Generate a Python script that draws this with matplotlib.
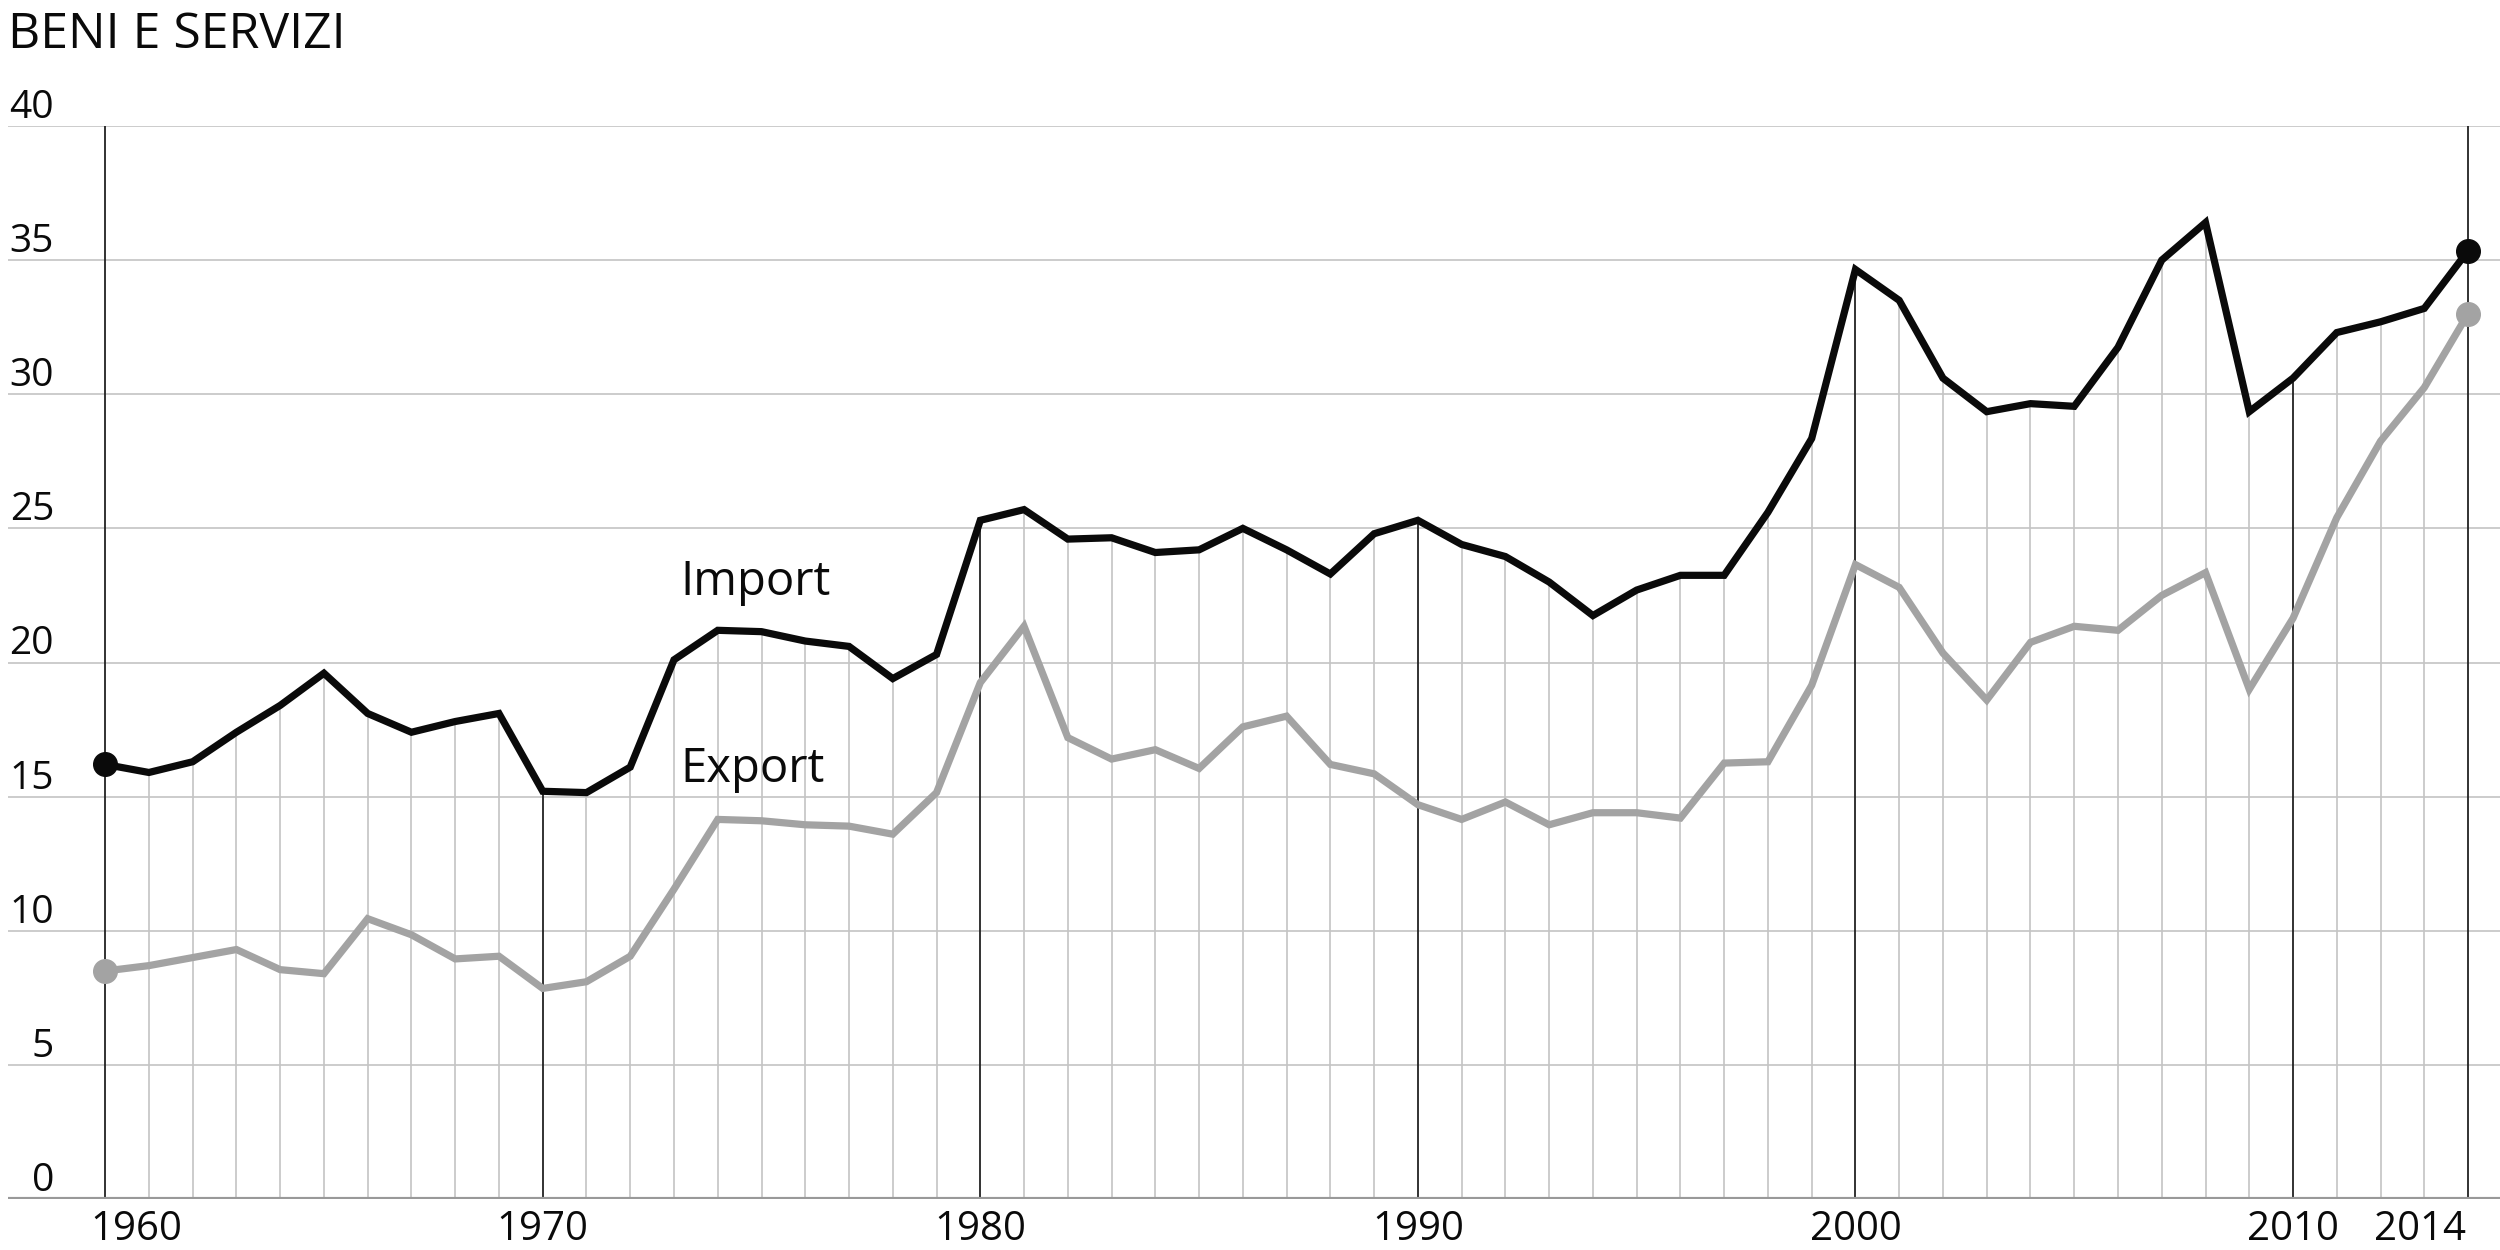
import matplotlib
matplotlib.use("Agg")
import matplotlib.pyplot as plt
import matplotlib.transforms as mtransforms

# data
years = list(range(1960, 2015))
import_vals = [16.2, 15.9, 16.3, 17.4, 18.4, 19.6, 18.1, 17.4, 17.8, 18.1,
               15.2, 15.15, 16.1, 20.1, 21.2, 21.15, 20.8, 20.6, 19.4, 20.3,
               25.3, 25.7, 24.6, 24.65, 24.1, 24.2, 25.0, 24.2, 23.3, 24.8,
               25.3, 24.4, 23.95, 23.0, 21.75, 22.7, 23.25, 23.25, 25.6, 28.35,
               34.65, 33.5, 30.6, 29.35, 29.65, 29.55, 31.75, 35.0, 36.4, 29.35,
               30.6, 32.3, 32.7, 33.2, 35.35]
export_vals = [8.5, 8.7, 9.0, 9.3, 8.55, 8.4, 10.45, 9.85, 8.95, 9.05,
               7.85, 8.1, 9.05, 11.55, 14.15, 14.1, 13.95, 13.9, 13.6, 15.15,
               19.25, 21.35, 17.2, 16.4, 16.75, 16.05, 17.6, 18.0, 16.2, 15.85,
               14.7, 14.15, 14.8, 13.95, 14.4, 14.4, 14.2, 16.25, 16.3, 19.15,
               23.65, 22.8, 20.35, 18.6, 20.75, 21.35, 21.2, 22.5, 23.35, 19.0,
               21.65, 25.4, 28.25, 30.25, 33.0]
y_ticks = [0, 5, 10, 15, 20, 25, 30, 35, 40]
x_labels = [1960, 1970, 1980, 1990, 2000, 2010, 2014]
title = "BENI E SERVIZI"

plt.rcParams['font.family'] = ['Open Sans', 'DejaVu Sans']

fig = plt.figure(figsize=(25, 12.5), dpi=100, facecolor='white')
ax = fig.add_axes([0.0032, 0.0408, 0.9968, 0.8584])
ax.set_xlim(1957.78, 2014.73)
ax.set_ylim(0, 40)
ax.axis('off')

# horizontal grid
for v in y_ticks[1:]:
    ax.axhline(v, color='#c8c8c8', lw=1.3, zorder=1)
ax.axhline(0, color='#999999', lw=3, zorder=4)

# vertical year lines up to the import line
light = [y for y in years if y not in x_labels]
ax.vlines(light, 0, [import_vals[years.index(y)] for y in light],
          color='#c4c4c4', lw=1.2, zorder=2)
mids = [1970, 1980, 1990, 2000, 2010]
ax.vlines(mids, 0, [import_vals[years.index(y)] for y in mids],
          color='#222222', lw=1.3, zorder=2)
ax.vlines([1960, 2014], 0, 40, color='#222222', lw=1.3, zorder=2)

# series
ax.plot(years, export_vals, color='#a3a3a3', lw=5.2, zorder=5, solid_joinstyle='miter')
ax.plot(years, import_vals, color='#0a0a0a', lw=5.2, zorder=6, solid_joinstyle='miter')
ax.plot([years[0], years[-1]], [export_vals[0], export_vals[-1]], 'o',
        color='#a3a3a3', ms=17, zorder=7)
ax.plot([years[0], years[-1]], [import_vals[0], import_vals[-1]], 'o',
        color='#0a0a0a', ms=17, zorder=8)

# labels
ax.text(1973.15, 22.5, "Import", fontsize=34, color='#0a0a0a', va='baseline', ha='left')
ax.text(1973.15, 15.55, "Export", fontsize=34, color='#0a0a0a', va='baseline', ha='left')

# y tick labels
ytrans = mtransforms.blended_transform_factory(ax.transAxes, ax.transData)
for v in y_ticks:
    ax.text(0.0185, v + 0.3, str(v), transform=ytrans, fontsize=28,
            ha='right', va='baseline', color='#0a0a0a')

# x tick labels
for yr in x_labels:
    ha = 'center'
    x = yr
    if yr == 1960:
        ha, x = 'left', 1959.67
    elif yr == 2014:
        ha, x = 'right', 2013.95
    ax.text(x, -0.4, str(yr), fontsize=29, ha=ha, va='top', color='#0a0a0a')

fig.text(0.003, 0.962, title, fontsize=36, ha='left', va='baseline', color='#0a0a0a')

fig.savefig("out.png", dpi=100, facecolor='white')
